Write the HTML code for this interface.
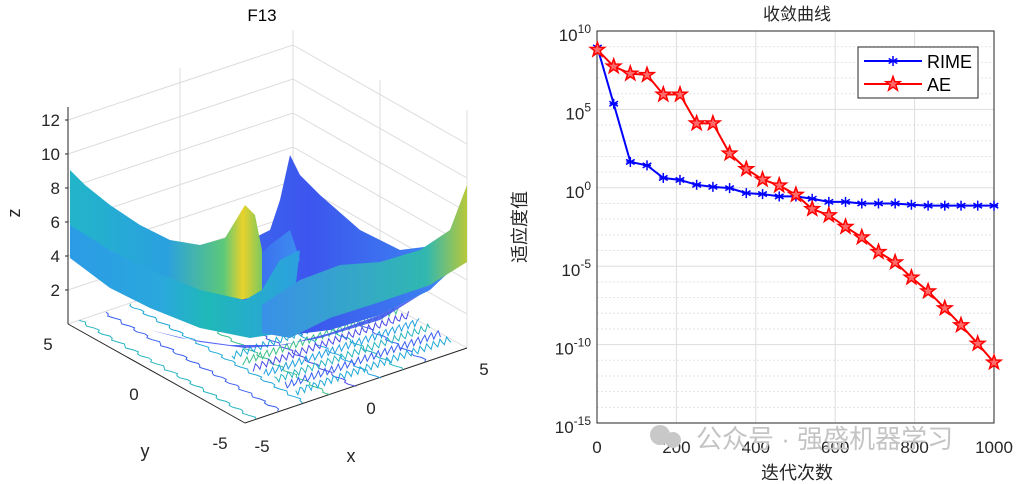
<!DOCTYPE html>
<html><head><meta charset="utf-8">
<style>
html,body{margin:0;padding:0;background:#fff;}
svg{display:block;font-family:"Liberation Sans","Noto Sans CJK SC",sans-serif;}
</style></head>
<body>
<svg width="1021" height="484" viewBox="0 0 1021 484" xmlns="http://www.w3.org/2000/svg">
<defs>
<linearGradient id="gL" x1="0" y1="0" x2="1" y2="0">
<stop offset="0" stop-color="#22b5c8"/><stop offset="0.5" stop-color="#2aa0e0"/><stop offset="0.8" stop-color="#5cc87a"/><stop offset="0.9" stop-color="#e8d22a"/><stop offset="1" stop-color="#7cc860"/></linearGradient>
<linearGradient id="gB" x1="0" y1="0" x2="1" y2="0">
<stop offset="0" stop-color="#3a7ff0"/><stop offset="0.5" stop-color="#3c55ee"/><stop offset="1" stop-color="#3c8ef0"/></linearGradient>
<linearGradient id="gF" x1="0" y1="0" x2="1" y2="0">
<stop offset="0" stop-color="#2b9be6"/><stop offset="0.4" stop-color="#2aa8dc"/><stop offset="0.6" stop-color="#1fb8b8"/><stop offset="1" stop-color="#2ca0e0"/></linearGradient>
<linearGradient id="gR" x1="0" y1="0" x2="1" y2="0">
<stop offset="0" stop-color="#3a90e8"/><stop offset="0.8" stop-color="#30b8b0"/><stop offset="1" stop-color="#b8c83a"/></linearGradient>
</defs>

<!-- ===== Left 3D plot ===== -->
<g id="left">
<text x="262" y="21" font-size="17" text-anchor="middle">F13</text>
<g stroke="#dcdcdc" stroke-width="1" fill="none">
<line x1="293" y1="30" x2="293" y2="249"/>
<line x1="180" y1="68" x2="180" y2="287"/>
<line x1="380" y1="80" x2="380" y2="299"/>
<line x1="467" y1="110" x2="467" y2="348"/>
</g>
<g id="zgrid" stroke="#dcdcdc" fill="none"></g>
<line x1="68" y1="107" x2="68" y2="324" stroke="#262626"/>
<line x1="68" y1="324" x2="245" y2="423" stroke="#262626"/>
<line x1="245" y1="423" x2="467" y2="348" stroke="#262626"/>
<g id="zticks" font-size="17" fill="#262626" text-anchor="end"></g>
<text x="20" y="213" font-size="18" fill="#262626" transform="rotate(-90 20 213)" text-anchor="middle">z</text>
<g font-size="17" fill="#262626" text-anchor="middle">
<text x="48" y="350">5</text><text x="134" y="400">0</text><text x="220" y="449">-5</text>
<text x="262" y="452">-5</text><text x="371" y="414">0</text><text x="484" y="375">5</text>
</g>
<text x="145" y="457" font-size="18" fill="#262626" text-anchor="middle">y</text>
<text x="351" y="462" font-size="18" fill="#262626" text-anchor="middle">x</text>
<g id="contours" fill="none" stroke-width="1"></g>
<g>
<polygon fill="url(#gB)" points="290,155 300,175 320,195 360,230 400,250 440,245 467,205 467,255 430,290 380,315 330,330 290,335 240,325 200,305 160,270 150,240 200,248 240,245 270,230 280,200"/>
<polygon fill="url(#gB)" points="150,240 180,258 220,268 250,265 270,245 290,230 300,260 260,300 200,300 160,275"/>
<polygon fill="url(#gL)" points="70,170 85,185 110,205 140,225 170,240 200,245 225,238 245,205 255,215 262,250 262,295 240,300 200,292 150,272 110,250 70,235"/>
<polygon fill="url(#gF)" points="70,225 110,250 150,270 200,290 245,300 262,290 280,260 300,250 290,332 250,338 200,328 150,308 110,288 70,258"/>
<polygon fill="url(#gR)" points="262,305 300,280 340,265 380,262 420,250 450,230 467,185 467,262 430,285 380,302 330,318 290,338 262,333"/>
<polygon fill="#3a4ff0" opacity="0.85" points="150,330 200,342 245,348 285,345 330,333 380,315 420,295 380,320 320,338 280,345 230,345 180,338"/>
</g>
</g>

<!-- ===== Right convergence plot ===== -->
<g id="right">
<text x="797" y="20" font-size="17" text-anchor="middle" fill="#262626">收敛曲线</text>
<g id="grid"></g>
<rect x="597" y="31" width="397" height="392" fill="none" stroke="#262626"/>
<g id="yt" font-size="17" fill="#262626" text-anchor="end"></g>
<g id="xt" font-size="17" fill="#262626" text-anchor="middle"></g>
<text x="797" y="479" font-size="18" text-anchor="middle" fill="#262626">迭代次数</text>
<text x="526" y="227" font-size="18" text-anchor="middle" fill="#262626" transform="rotate(-90 526 227)">适应度值</text>
<g id="series"></g>
<g>
<rect x="858" y="47" width="120" height="51" fill="#fff" stroke="#262626"/>
<line x1="864" y1="61" x2="922" y2="61" stroke="#0000ff" stroke-width="2"/>
<text x="927" y="68" font-size="18" fill="#000">RIME</text>
<line x1="864" y1="84" x2="922" y2="84" stroke="#ff0000" stroke-width="2"/>
<text x="927" y="91" font-size="18" fill="#000">AE</text>
<g id="legmk"></g>
</g>
<g fill="#c8c8c8">
<circle cx="660" cy="435" r="10"/><circle cx="673" cy="440" r="8"/>
<text x="696" y="448" font-size="26" fill="#c4c4c4">公众号 · 强盛机器学习</text>
</g>
</g>

<script>
const iters=[1,42,84,126,167,209,251,292,334,376,417,459,501,542,584,626,667,709,751,792,834,876,917,959,1000];
const rimeLog=[8.95,5.36,1.65,1.43,0.63,0.5,0.19,0.06,-0.02,-0.34,-0.4,-0.55,-0.55,-0.7,-0.9,-0.9,-1.0,-1.0,-1.0,-1.08,-1.14,-1.14,-1.14,-1.14,-1.14];
const aeLog=[8.8,7.74,7.28,7.2,5.95,5.95,4.11,4.11,2.19,1.2,0.53,0.15,-0.44,-1.35,-1.75,-2.49,-3.16,-4.09,-4.75,-5.72,-6.6,-7.68,-8.76,-9.94,-11.14];
const xTicks=[0,200,400,600,800,1000];
const yTickExp=[10,5,0,-5,-10,-15];
const zTicks=[2,4,6,8,10,12];

const NS="http://www.w3.org/2000/svg";
function mk(tag,attrs,parent){const e=document.createElementNS(NS,tag);for(const k in attrs)e.setAttribute(k,attrs[k]);parent.appendChild(e);return e;}
const X0=597,X1=994,Y0=31,Y1=423;
const xs=v=>X0+(v/1000)*(X1-X0);
const ys=l=>Y0+(10-l)/25*(Y1-Y0);

const grid=document.getElementById('grid');
for(let e=-15;e<=10;e++){
  if(yTickExp.includes(e)){const l=mk('line',{x1:X0,x2:X1,y1:ys(e),y2:ys(e),stroke:'#dedede'},grid);
  
  }
  else{const l=mk('line',{x1:X0,x2:X1,y1:ys(e),y2:ys(e),stroke:'#e4e4e4','stroke-dasharray':'2,2'},grid);
  
  }
}
xTicks.forEach(v=>{const l=mk('line',{x1:xs(v),x2:xs(v),y1:Y0,y2:Y1,stroke:'#dedede'},grid);


const t=mk('text',{x:xs(v),y:Y1+30},document.getElementById('xt'));t.textContent=v;

});
yTickExp.forEach(e=>{const t=mk('text',{x:X0-6,y:ys(e)+10},document.getElementById('yt'));


const a=mk('tspan',{},t);a.textContent='10';const b=mk('tspan',{dy:-8,'font-size':12},t);b.textContent=String(e);});

function asterisk(g,cx,cy,c){const r=5;for(let i=0;i<3;i++){const a=i*Math.PI/3+Math.PI/2;mk('line',{x1:cx-r*Math.cos(a),y1:cy-r*Math.sin(a),x2:cx+r*Math.cos(a),y2:cy+r*Math.sin(a),stroke:c,'stroke-width':1.5},g);}
mk('line',{x1:cx-4,y1:cy,x2:cx+4,y2:cy,stroke:c,'stroke-width':1.5},g);}
function star(g,cx,cy,c){let p=[];for(let i=0;i<10;i++){const r=i%2?3:7.5;const a=-Math.PI/2+i*Math.PI/5;p.push((cx+r*Math.cos(a)).toFixed(1)+','+(cy+r*Math.sin(a)).toFixed(1));}
mk('polygon',{points:p.join(' '),fill:'#ff6a6a',stroke:c,'stroke-width':1.5},g);}

const ser=document.getElementById('series');
const ae=mk('polyline',{points:iters.map((v,i)=>xs(v)+','+ys(aeLog[i])).join(' '),fill:'none',stroke:'#ff0000','stroke-width':2},ser);


const rl=mk('polyline',{points:iters.map((v,i)=>xs(v)+','+ys(rimeLog[i])).join(' '),fill:'none',stroke:'#0000ff','stroke-width':2},ser);


iters.forEach((v,i)=>{const g=mk('g',{},ser);
asterisk(g,xs(v),ys(rimeLog[i]),'#0000ff');});
iters.forEach((v,i)=>{const g=mk('g',{},ser);
star(g,xs(v),ys(aeLog[i]),'#ff0000');});
const lm=document.getElementById('legmk');asterisk(lm,893,61,'#0000ff');star(lm,893,84,'#ff0000');

// left 3D: z grid & ticks
const zy=z=>324-z*17;
const zg=document.getElementById('zgrid');
zTicks.forEach(z=>{const y=zy(z);
const p=mk('polyline',{points:`68,${y} 293,${y-75} 467,${y+24}`},zg);


const t=mk('text',{x:60,y:y+6},document.getElementById('zticks'));t.textContent=z;


mk('line',{x1:65,x2:68,y1:y,y2:y,stroke:'#262626'},zg);});
mk('polyline',{points:'68,324 290,249 467,348'},zg);

// decorative contour squiggles on the floor
const ct=document.getElementById('contours');
const cols=['#27b4c0','#3a5ff0','#1fa8d8','#3cc08a','#4a4ae8','#22a0e0'];
for(let k=0;k<8;k++){
  const t=0.05+k*0.11;
  const sx=68+(290-68)*t, sy=324+(249-324)*t;
  const ex=245+(467-245)*t, ey=423+(348-423)*t;
  let pts=[];const n=50;
  for(let i=0;i<=n;i++){const u=i/n;const px=sx+(ex-sx)*u;const py=sy+(ey-sy)*u;
    const w=Math.sin(i*1.7+k)*3;
    pts.push((px+w).toFixed(1)+','+(py).toFixed(1));}
  mk('polyline',{points:pts.join(' '),stroke:cols[k%cols.length]},ct);
}
for(let k=0;k<7;k++){
  const t=0.55+k*0.06;
  const sx=68+(245-68)*t, sy=324+(423-324)*t;
  const ex=290+(467-290)*t, ey=249+(348-249)*t;
  let pts=[];const n=70;
  for(let i=0;i<=n;i++){const u=0.3+0.7*i/n;const px=sx+(ex-sx)*u;const py=sy+(ey-sy)*u;
    const w=Math.sin(i*2.1+k)*4;
    pts.push(px.toFixed(1)+','+(py+w).toFixed(1));}
  mk('polyline',{points:pts.join(' '),stroke:cols[(k+2)%cols.length]},ct);
}
</script>
</svg>
</body></html>
